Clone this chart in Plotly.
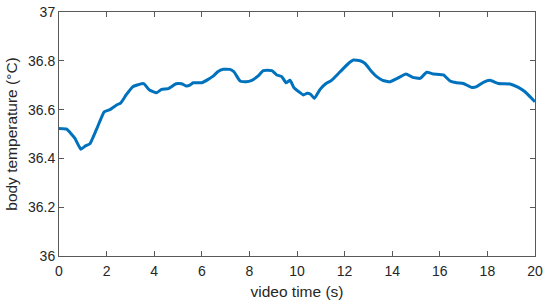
import plotly.graph_objects as go

# body temperature
video_time = [0.0, 0.32, 0.67, 0.92, 1.09, 1.3, 1.58, 1.9, 2.14, 2.42, 2.6, 2.82,
              3.1, 3.47, 3.57, 3.8, 4.1, 4.31, 4.6, 4.92, 5.15, 5.34, 5.5, 5.64,
              5.99, 6.27, 6.49, 6.67, 6.9, 7.18, 7.35, 7.61, 7.86, 8.1, 8.37,
              8.58, 8.94, 9.15, 9.36, 9.54, 9.71, 9.87, 10.08, 10.27, 10.43,
              10.57, 10.73, 10.97, 11.22, 11.43, 11.81, 12.16, 12.37, 12.65,
              12.86, 13.14, 13.35, 13.6, 13.91, 14.19, 14.58, 14.86, 15.17,
              15.45, 15.73, 16.15, 16.43, 16.71, 16.99, 17.34, 17.55, 17.83,
              18.11, 18.46, 18.95, 19.3, 19.58, 20.0]
body_temp = [36.523, 36.52, 36.482, 36.437, 36.45, 36.46, 36.52, 36.591, 36.60,
             36.619, 36.628, 36.66, 36.694, 36.706, 36.706, 36.68, 36.669,
             36.683, 36.686, 36.706, 36.706, 36.697, 36.70, 36.71, 36.71,
             36.724, 36.738, 36.755, 36.765, 36.765, 36.755, 36.717, 36.714,
             36.72, 36.738, 36.76, 36.76, 36.742, 36.735, 36.71, 36.72, 36.69,
             36.673, 36.66, 36.667, 36.663, 36.646, 36.683, 36.707, 36.718,
             36.755, 36.789, 36.803, 36.80, 36.789, 36.755, 36.735, 36.72,
             36.714, 36.727, 36.746, 36.732, 36.728, 36.753, 36.746, 36.742,
             36.717, 36.71, 36.707, 36.691, 36.694, 36.712, 36.72, 36.707,
             36.705, 36.691, 36.673, 36.632]

x_ticks = list(range(0, 21, 2))
y_ticks = [36, 36.2, 36.4, 36.6, 36.8, 37]
y_tick_text = ["36", "36.2", "36.4", "36.6", "36.8", "37"]

fig = go.Figure()
fig.add_trace(go.Scatter(x=video_time, y=body_temp, mode="lines",
                         line=dict(color="#0072BD", width=3, shape="spline", smoothing=0.4)))

axis_style = dict(showgrid=False, zeroline=False, showline=True, linecolor="#595959",
                  linewidth=1, mirror="ticks", ticks="inside", ticklen=5,
                  tickcolor="#595959", tickfont=dict(size=14, color="#262626"),
                  title_font=dict(size=15.5, color="#262626"), automargin=False)

fig.update_xaxes(range=[0, 20], tickvals=x_ticks, title_text="video time (s)",
                 title_standoff=8, ticklabelstandoff=2, **axis_style)
fig.update_yaxes(range=[36, 37], tickvals=y_ticks, ticktext=y_tick_text,
                 title_text="body temperature (°C)", title_standoff=6, **axis_style)

fig.update_layout(width=550, height=305, showlegend=False,
                  margin=dict(l=59, r=15, t=12, b=49),
                  plot_bgcolor="white", paper_bgcolor="white",
                  font=dict(family="Liberation Sans, Arial, sans-serif"))

# drop the default 8px page margin so the figure fills the window exactly
fig.write_html("out.html", config={"displayModeBar": False},
               post_script="document.body.style.margin = '0';")
